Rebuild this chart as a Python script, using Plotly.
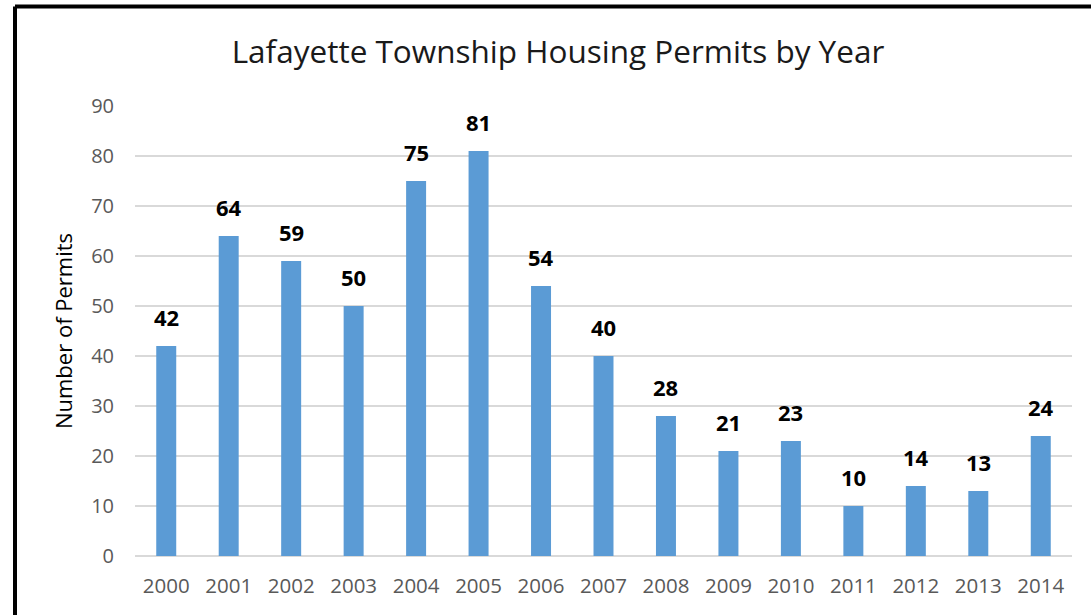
import plotly.graph_objects as go

years = ["2000", "2001", "2002", "2003", "2004", "2005", "2006", "2007",
         "2008", "2009", "2010", "2011", "2012", "2013", "2014"]
permits = [42, 64, 59, 50, 75, 81, 54, 40, 28, 21, 23, 10, 14, 13, 24]
y_ticks = [0, 10, 20, 30, 40, 50, 60, 70, 80, 90]

W, H = 1091, 615
L, R, T, B = 135, 19, 106, 59
pw, ph = W - L - R, H - T - B

fig = go.Figure()
fig.add_trace(go.Bar(
    x=years, y=permits, width=0.32,
    marker=dict(color="#5b9bd5", line=dict(width=0)),
    hoverinfo="x+y",
))

for i, v in enumerate(permits):
    fig.add_annotation(x=i, y=v, text=str(v), showarrow=False,
                       yanchor="bottom", yshift=12,
                       font=dict(family="Open Sans", size=22, color="#000000", weight="bold"))

def px_x(p):
    return (p - L) / pw

def px_y(p):
    return (H - B - p) / ph

border = dict(color="#000000", width=4)
fig.add_shape(type="line", xref="paper", yref="paper",
              x0=px_x(15), x1=px_x(15), y0=px_y(H + 10), y1=px_y(6.5), line=border)
fig.add_shape(type="line", xref="paper", yref="paper",
              x0=px_x(15), x1=px_x(W + 10), y0=px_y(6.5), y1=px_y(6.5), line=border)

fig.update_layout(
    width=W, height=H,
    margin=dict(l=L, r=R, t=T, b=B),
    paper_bgcolor="white", plot_bgcolor="white",
    showlegend=False,
    title=dict(text="Lafayette Township Housing Permits by Year",
               x=558 / W, xanchor="center", y=1 - 52 / H, yanchor="middle",
               font=dict(family="Open Sans", size=31.5, color="#1a1a1a")),
    xaxis=dict(type="category", range=[-0.5, len(years) - 0.5],
               showgrid=False, showline=False, ticks="",
               ticklabelstandoff=15,
               tickfont=dict(family="Open Sans", size=20.5, color="#595959")),
    yaxis=dict(range=[0, 90], tickvals=y_ticks, showgrid=True,
               gridcolor="#d9d9d9", gridwidth=2, zeroline=True,
               zerolinecolor="#d9d9d9", zerolinewidth=2, ticks="",
               ticklabelstandoff=20,
               tickfont=dict(family="Open Sans", size=20, color="#595959"),
               title=dict(text="Number of Permits", standoff=12,
                          font=dict(family="Open Sans", size=22, color="#000000"))),
)

fig.write_html("out.html")
